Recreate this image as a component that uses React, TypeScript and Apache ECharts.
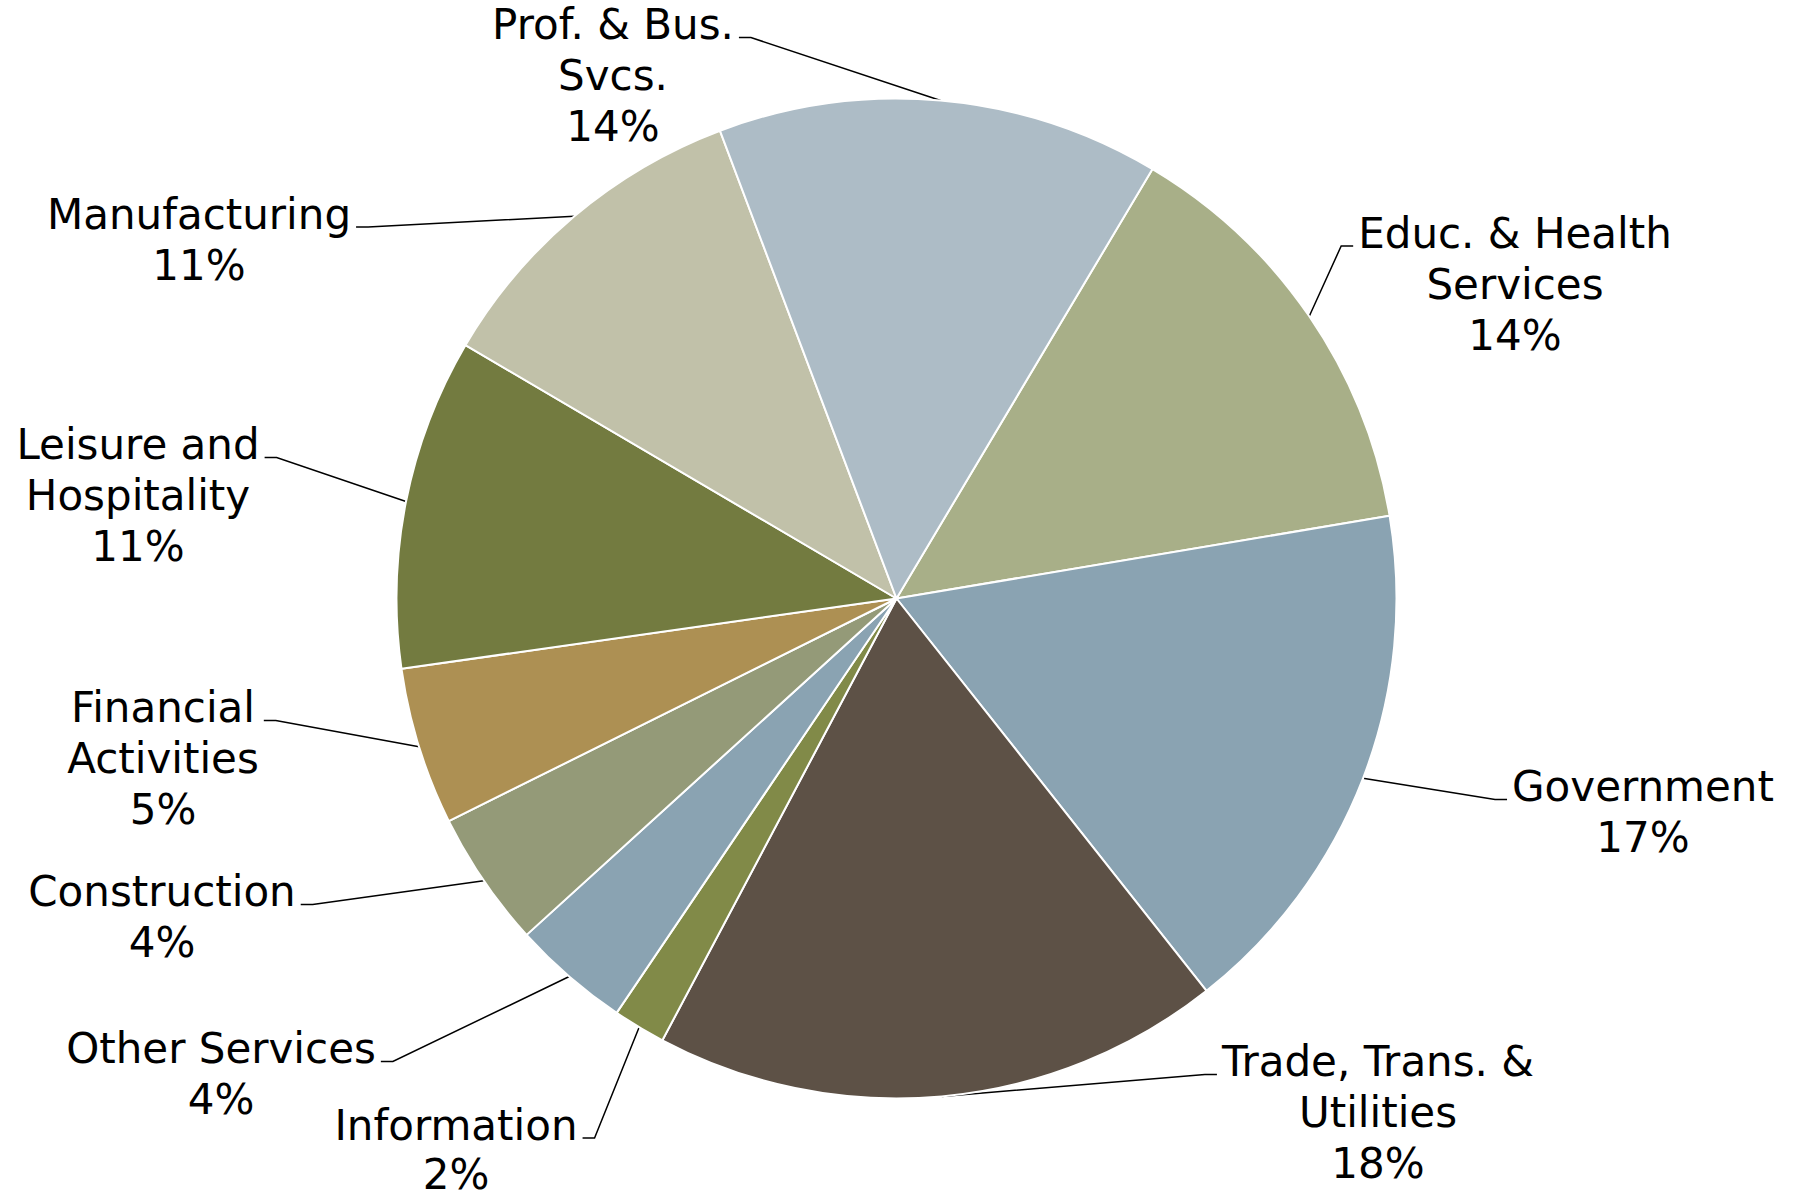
import React, { useEffect, useRef } from "react";
import * as echarts from "echarts";

// Industry categories (clockwise from the slice just right of 12 o'clock)
const categories = [
  "Educ. & Health\nServices",
  "Government",
  "Trade, Trans. &\nUtilities",
  "Information",
  "Other Services",
  "Construction",
  "Financial\nActivities",
  "Leisure and\nHospitality",
  "Manufacturing",
  "Prof. & Bus.\nSvcs.",
];
// Share of employment, percent
const shares = [13.8, 17.0, 18.4, 1.7, 3.8, 4.4, 5.1, 10.7, 10.8, 14.3];
const sliceColors = [
  "#A8AF88",
  "#8AA3B2",
  "#5D5146",
  "#818A48",
  "#8AA3B2",
  "#949A78",
  "#AD9053",
  "#737B40",
  "#C1C1A9",
  "#ADBCC6",
];

// Label placement (layout only): centre x, first-line centre y, side of leader stub, line height
const labelX = [1515, 1643, 1378, 456, 221, 162, 163, 138, 199, 613];
const labelY = [231, 784.5, 1059.5, 1123, 1046.5, 889.5, 705.5, 442.5, 212, 22.5];
const stubSide = [-1, -1, -1, 1, 1, 1, 1, 1, 1, 1];
const labelLineHeight = [51, 51, 51, 49, 51, 51, 51, 51, 51, 51];

const CX = 896.5;
const CY = 598.5;
const R = 500;
const FIRST_OFFSET = 30.8; // degrees clockwise from 12 o'clock

export default function App() {
  const ref = useRef<HTMLDivElement>(null);

  useEffect(() => {
    if (!ref.current) return;
    const chart = echarts.init(ref.current, undefined, { renderer: "svg" });
    const total = shares.reduce((a, b) => a + b, 0);
    const midAngles: number[] = [];
    let acc = 0;
    shares.forEach((v) => {
      const a0 = FIRST_OFFSET + (acc / total) * 360;
      const a1 = FIRST_OFFSET + ((acc + v) / total) * 360;
      midAngles.push((a0 + a1) / 2);
      acc += v;
    });

    chart.setOption({
      animation: false,
      backgroundColor: "#ffffff",
      series: [
        {
          type: "pie",
          center: [CX, CY],
          radius: [0, R],
          startAngle: 90 - FIRST_OFFSET,
          clockwise: true,
          avoidLabelOverlap: false,
          percentPrecision: 0,
          itemStyle: { borderColor: "#ffffff", borderWidth: 2 },
          label: {
            show: true,
            position: "outside",
            formatter: "{b}\n{d}%",
            fontFamily: "DejaVu Sans",
            fontSize: 42,
            lineHeight: 51,
            color: "#000000",
            overflow: "none",
          },
          labelLine: {
            show: true,
            length: 10,
            length2: 10,
            lineStyle: { color: "#000000", width: 1.5 },
          },
          emphasis: { disabled: true },
          labelLayout: (params: any) => {
            const i = params.dataIndex;
            const w = params.labelRect.width;
            const side = stubSide[i];
            const edgeX = side > 0 ? labelX[i] + w / 2 + 5 : labelX[i] - w / 2 - 5;
            const stubY = labelY[i] + 15;
            const bendX = edgeX + side * 12;
            const rad = (midAngles[i] * Math.PI) / 180;
            const px = CX + R * Math.sin(rad);
            const py = CY - R * Math.cos(rad);
            return {
              x: labelX[i],
              y: labelY[i] - labelLineHeight[i] / 2 + 2,
              align: "center",
              verticalAlign: "top",
              labelLinePoints: [
                [px, py],
                [bendX, stubY],
                [edgeX, stubY],
              ],
            };
          },
          data: categories.map((name, i) => ({
            name,
            value: shares[i],
            itemStyle: { color: sliceColors[i] },
            label: { lineHeight: labelLineHeight[i] },
          })),
        },
      ],
    });

    return () => chart.dispose();
  }, []);

  return (
    <div
      ref={ref}
      style={{ position: "absolute", left: 0, top: 0, width: 1797, height: 1197 }}
    />
  );
}
